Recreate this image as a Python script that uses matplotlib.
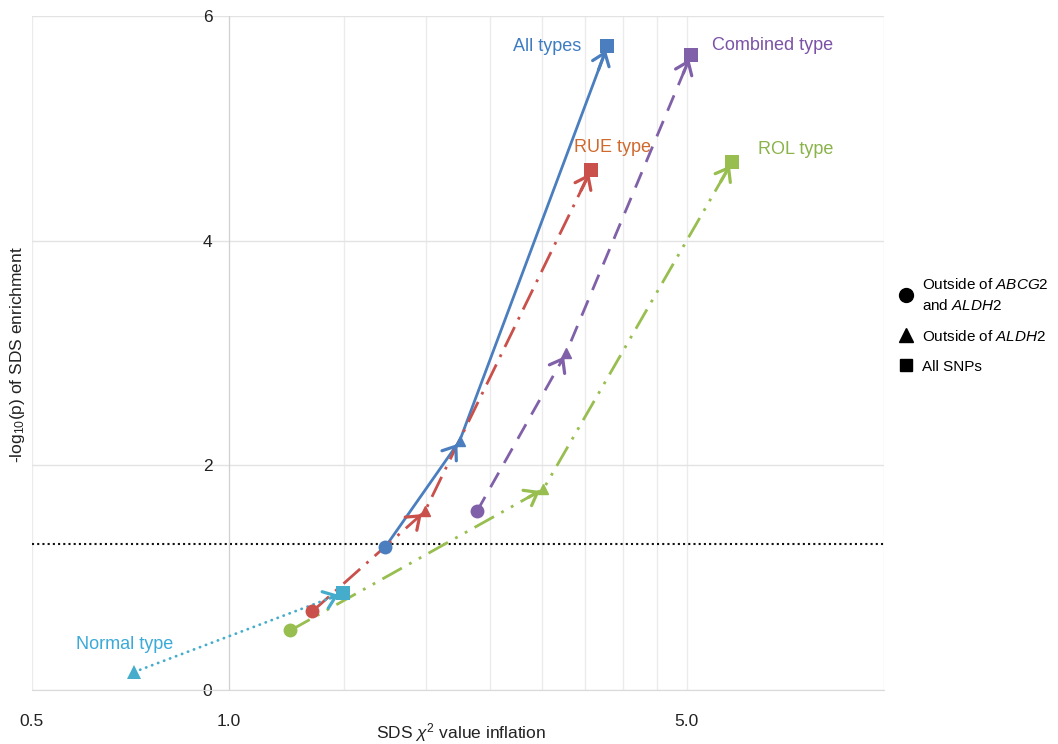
import numpy as np
import matplotlib.pyplot as plt
from matplotlib.lines import Line2D
from matplotlib.patches import FancyArrowPatch

plt.rcParams['font.family'] = ['Liberation Sans', 'DejaVu Sans']
plt.rcParams['mathtext.fontset'] = 'custom'
plt.rcParams['mathtext.rm'] = 'Liberation Sans'
plt.rcParams['mathtext.it'] = 'Liberation Sans:italic'

# points: circle = outside ABCG2 & ALDH2, triangle = outside ALDH2, square = all SNPs
all_x = [1.73, 2.25, 3.78]
all_y = [1.27, 2.22, 5.73]
rue_x = [1.34, 1.99, 3.57]
rue_y = [0.70, 1.59, 4.63]
comb_x = [2.39, 3.27, 5.07]
comb_y = [1.59, 3.00, 5.65]
rol_x = [1.24, 3.02, 5.86]
rol_y = [0.53, 1.79, 4.70]
normal_x = [0.716, 1.49]
normal_y = [0.16, 0.86]

sig_line = -np.log10(0.05)

x_major = [0.5, 1.0, 5.0, 10.0]
x_major_labels = ['0.5', '1.0', '5.0', '']
x_minor = [1.5, 2.0, 2.5, 3.0, 3.5, 4.0, 4.5]
y_ticks = [0, 2, 4, 6]

series = [
    # x, y, markers, line color, label color, dashes, label, label offset(pt), ha
    (all_x, all_y, ['o', '^', 's'], '#4A7EBF', '#3D7CC2', None, 'All types', (-19, 0), 'right'),
    (rue_x, rue_y, ['o', '^', 's'], '#C9504B', '#D0692E', (8, 3, 1, 3), 'RUE type', (-12, 16), 'left'),
    (comb_x, comb_y, ['o', '^', 's'], '#8060A8', '#7B52A6', (6, 4), 'Combined type', (15, 7), 'left'),
    (rol_x, rol_y, ['o', '^', 's'], '#97BE4F', '#8AB34A', (8, 3, 1, 3, 1, 3), 'ROL type', (19, 9), 'left'),
    (normal_x, normal_y, ['^', 's'], '#45ADCB', '#3AAAD8', (0.1, 2.2), 'Normal type', (-7, 20), 'center'),
]

fig = plt.figure(figsize=(10.58, 7.44), dpi=100)
ax = fig.add_axes([32/1058, 1-690/744, (884-32)/1058, (690-16)/744])
ax.set_xscale('log')
ax.set_xlim(0.5, 10)
ax.set_ylim(0, 6)

ax.set_xticks(x_major)
ax.set_xticklabels(x_major_labels)
ax.set_xticks(x_minor, minor=True)
ax.xaxis.set_minor_formatter(plt.NullFormatter())
ax.set_yticks(y_ticks)
ax.grid(True, which='both', axis='x', color='#EBEBEB', lw=1)
ax.grid(True, which='major', axis='y', color='#E3E3E3', lw=1)
ax.tick_params(axis='both', which='both', length=0, labelsize=12.5, colors='#222222')
ax.tick_params(axis='x', pad=17)
ax.tick_params(axis='y', pad=12)
for s in ['top', 'right']:
    ax.spines[s].set_visible(False)
ax.spines['left'].set_position(('data', 1.0))
ax.spines['left'].set_color('#D0D0D0')
ax.spines['bottom'].set_color('#D9D9D9')
ax.set_axisbelow(True)

ax.axhline(sig_line, color='#111111', lw=1.5, ls=(0, (1, 1.5)), zorder=2)

msize = {'o': 10, '^': 10, 's': 9.5}
for xs, ys, marks, c, tc, dash, label, off, ha in series:
    if dash is None:
        ax.plot(xs, ys, color=c, lw=2, solid_capstyle='butt', zorder=3)
    else:
        ln, = ax.plot(xs, ys, color=c, lw=2, zorder=3)
        ln.set_dashes(dash)
        if dash[0] < 1:
            ln.set_dash_capstyle('round')
    # arrowheads at the end of each segment
    for i in range(len(xs) - 1):
        lx0, lx1 = np.log10(xs[i]), np.log10(xs[i + 1])
        sx = 10 ** (lx1 - 0.06 * (lx1 - lx0))
        sy = ys[i + 1] - 0.06 * (ys[i + 1] - ys[i])
        arr = FancyArrowPatch((sx, sy), (xs[i + 1], ys[i + 1]),
                              arrowstyle='->,head_length=0.6,head_width=0.45',
                              mutation_scale=14, color=c, lw=2.3,
                              shrinkA=0, shrinkB=3, zorder=5)
        ax.add_patch(arr)
    for j, (x, y) in enumerate(zip(xs, ys)):
        m = marks[j]
        if m == '^' and j > 0:
            ax.plot(x, y, marker=m, ms=7, color=c, ls='none', zorder=4)
        else:
            ax.plot(x, y, marker=m, ms=msize[m], color=c, ls='none', zorder=6,
                    markeredgewidth=0)
    # type label near the last (or first for Normal) point
    k = 0 if label == 'Normal type' else -1
    ax.annotate(label, (xs[k], ys[k]), xytext=off, textcoords='offset points',
                ha=ha, va='center', color=tc, fontsize=13)

fig.text(18/1058, 1-355/744, '-log$_{10}$(p) of SDS enrichment', rotation=90,
         ha='center', va='center', fontsize=12.5, color='#222222')
fig.text(461/1058, 1-733/744, 'SDS $\\chi^2$ value inflation',
         ha='center', va='center', fontsize=12.5, color='#222222')

handles = [
    Line2D([], [], marker='o', color='black', ls='none', ms=10),
    Line2D([], [], marker='^', color='black', ls='none', ms=10),
    Line2D([], [], marker='s', color='black', ls='none', ms=9),
]
labels = ['Outside of $\\mathit{ABCG2}$\nand $\\mathit{ALDH2}$',
          'Outside of $\\mathit{ALDH2}$',
          'All SNPs']
leg = fig.legend(handles, labels, loc='upper left', bbox_to_anchor=(885/1058, 1-263/744),
                 frameon=False, fontsize=11, handlelength=1.0, handletextpad=0.5,
                 labelspacing=1.05)
for t in leg.get_texts():
    t.set_linespacing(1.5)

fig.savefig('out.png', dpi=100)
